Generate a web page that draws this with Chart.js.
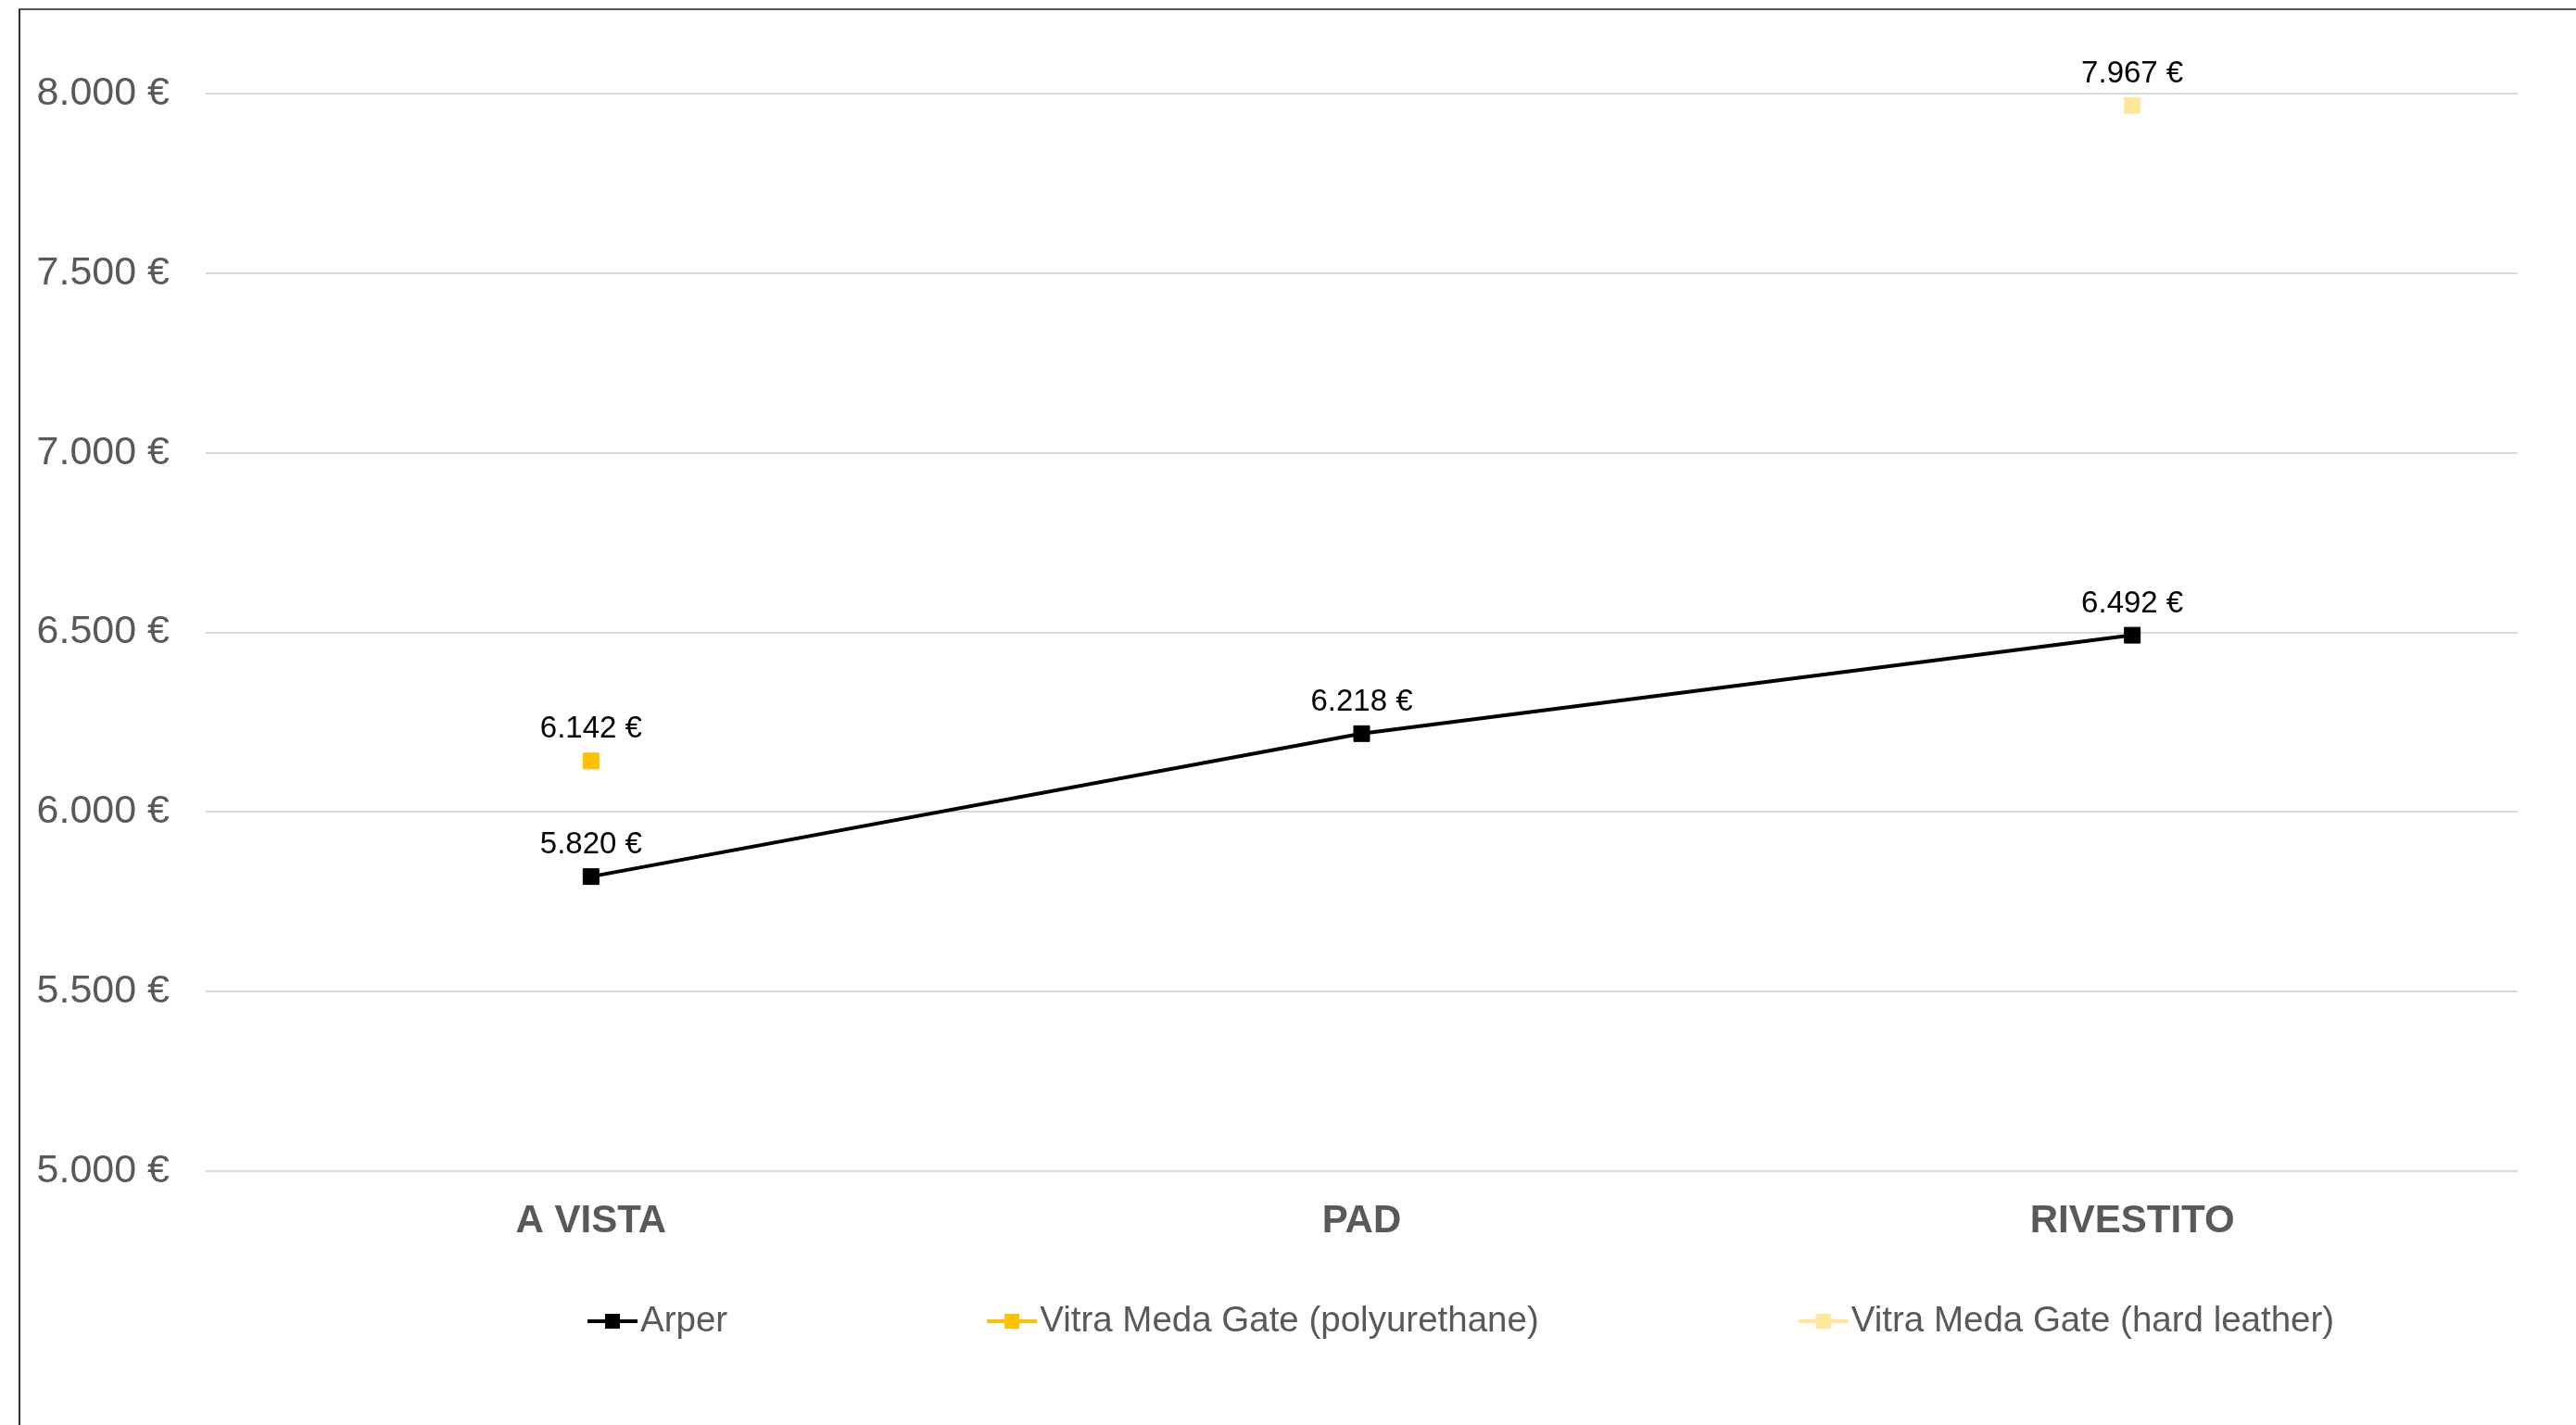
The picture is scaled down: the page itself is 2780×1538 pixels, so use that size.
<!DOCTYPE html>
<html>
<head>
<meta charset="utf-8">
<title>Prezzi sedute</title>
<script src="https://cdn.jsdelivr.net/npm/chart.js@4.4.1/dist/chart.umd.min.js"></script>
<style>
    html, body { margin: 0; padding: 0; background: #fff; }
    .wrapper { position: relative; width: 2780px; height: 1538px; overflow: hidden; }
    .frame { position: absolute; left: 20px; top: 9px; right: -10px; bottom: -10px; border-left: 2px solid #333; border-top: 2px solid #555; pointer-events: none; }
    #chart { position: absolute; left: 0; top: 0; }
</style>
</head>
<body>

<script>
    // values
    const categories = ["A VISTA", "PAD", "RIVESTITO"]
    const arper = [5820, 6218, 6492]
    const vitraPolyurethane = [6142, null, null]
    const vitraHardLeather = [null, null, 7967]

    const yMin = 5000
    const yMax = 8000
    const yStep = 500

    const font = '"Liberation Sans", Arial, Helvetica, sans-serif'

    const euro = n => String(n).replace(/\B(?=(\d{3})+(?!\d))/g, '.') + ' €'

    // value labels above each point
    const valueLabels = {
        id: 'valueLabels',
        afterDatasetsDraw(chart) {
            const ctx = chart.ctx
            ctx.save()
            ctx.font = '33px ' + font
            ctx.fillStyle = '#000'
            ctx.textAlign = 'center'
            ctx.textBaseline = 'middle'
            chart.data.datasets.forEach((ds, i) => {
                chart.getDatasetMeta(i).data.forEach((pt, j) => {
                    if (ds.data[j] == null) return
                    ctx.fillText(euro(ds.data[j]), pt.x, pt.y - 34)
                })
            })
            ctx.restore()
        }
    }

    // excel style legend: line with a square marker
    const lineLegend = {
        id: 'lineLegend',
        afterDraw(chart) {
            const ctx = chart.ctx
            const y = 1426
            let x = 634
            ctx.save()
            ctx.font = '38.5px ' + font
            ctx.textBaseline = 'middle'
            ctx.textAlign = 'left'
            chart.data.datasets.forEach(ds => {
                ctx.strokeStyle = ds.borderColor
                ctx.lineWidth = 4
                ctx.beginPath()
                ctx.moveTo(x, y)
                ctx.lineTo(x + 54, y)
                ctx.stroke()
                ctx.fillStyle = ds.backgroundColor
                ctx.fillRect(x + 19, y - 8, 16, 16)
                ctx.fillStyle = '#595959'
                ctx.fillText(ds.label, x + 57, y)
                x += 57 + ctx.measureText(ds.label).width + 280
            })
            ctx.restore()
        }
    }

    window.addEventListener('DOMContentLoaded', () => {
        const ctx = document.getElementById('chart')

        const series = (label, data, color) => ({
            label: label,
            data: data,
            borderColor: color,
            backgroundColor: color,
            borderWidth: 4,
            pointStyle: 'rect',
            pointRadius: 12,
            pointBorderWidth: 1,
            pointHoverRadius: 12,
            tension: 0,
            spanGaps: false
        })

        new Chart(ctx, {
            type: 'line',
            data: {
                labels: categories,
                datasets: [
                    series('Arper', arper, '#000000'),
                    series('Vitra Meda Gate (polyurethane)', vitraPolyurethane, '#FFC000'),
                    series('Vitra Meda Gate (hard leather)', vitraHardLeather, '#FFE699')
                ]
            },
            options: {
                responsive: false,
                animation: false,
                events: [],
                layout: { padding: { top: 101, right: 63, bottom: 164, left: 0 } },
                plugins: {
                    legend: { display: false },
                    tooltip: { enabled: false }
                },
                scales: {
                    x: {
                        offset: true,
                        grid: { display: false },
                        border: { display: false },
                        ticks: {
                            padding: 21,
                            color: '#595959',
                            font: { family: font, size: 42, weight: 'bold' }
                        },
                        afterFit: scale => { scale.height = 110 }
                    },
                    y: {
                        min: yMin,
                        max: yMax,
                        grid: { color: '#d9d9d9', lineWidth: 2, drawTicks: false },
                        border: { display: false },
                        ticks: {
                            stepSize: yStep,
                            padding: 39,
                            color: '#595959',
                            font: { family: font, size: 43 },
                            callback: v => euro(v)
                        },
                        afterFit: scale => { scale.width = 222 }
                    }
                }
            },
            plugins: [valueLabels, lineLegend]
        })
    })
</script>

<section class="wrapper">
    <canvas id="chart" width="2780" height="1538"></canvas>
    <div class="frame"></div>
</section>

</body>
</html>
